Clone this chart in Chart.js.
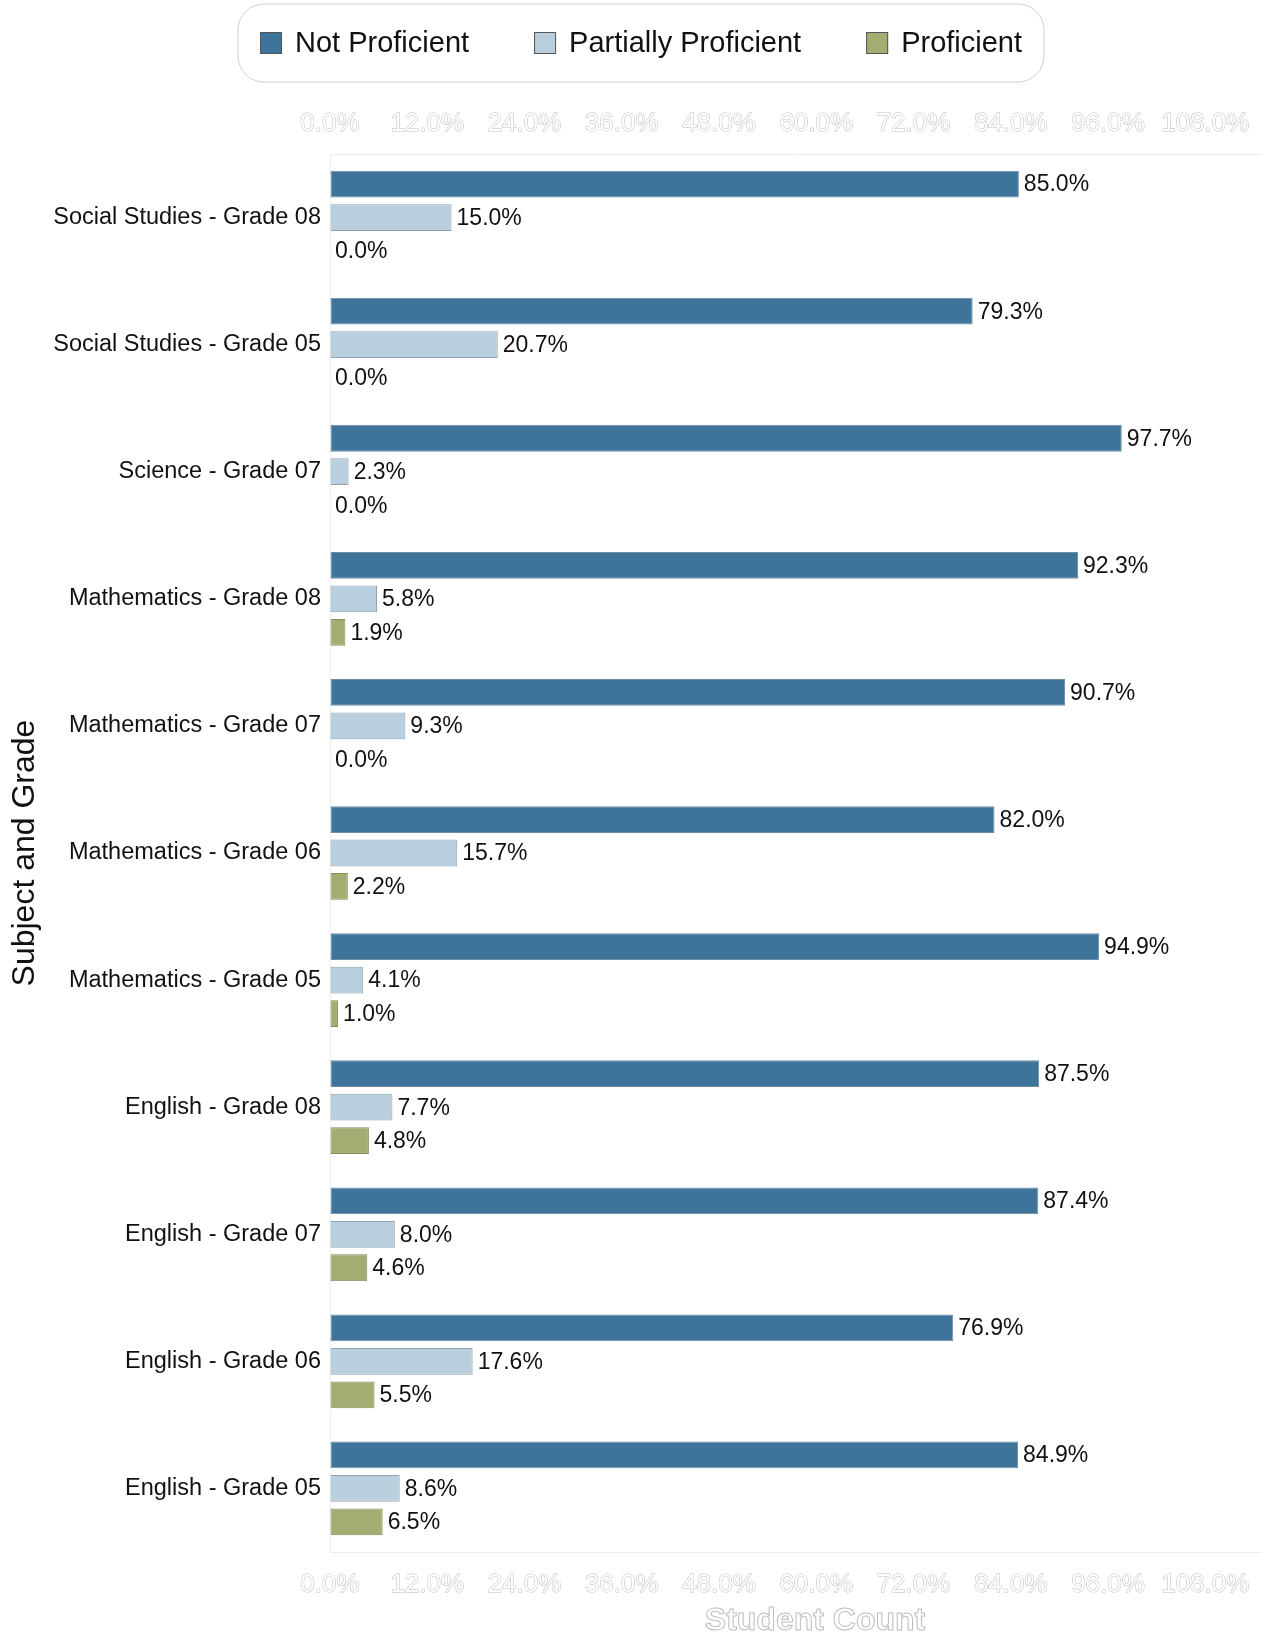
<!DOCTYPE html>
<html>
<head>
<meta charset="utf-8">
<script src="https://cdn.jsdelivr.net/npm/chart.js@4/dist/chart.umd.min.js"></script>
<style>
  html, body { margin: 0; padding: 0; background: #fff; }
  canvas { display: block; }
</style>
</head>
<body>
<canvas id="myChart" width="1262" height="1636"></canvas>
<script>
// data (percent of students)
var categories = [
    'Social Studies - Grade 08', 'Social Studies - Grade 05', 'Science - Grade 07',
    'Mathematics - Grade 08', 'Mathematics - Grade 07', 'Mathematics - Grade 06', 'Mathematics - Grade 05',
    'English - Grade 08', 'English - Grade 07', 'English - Grade 06', 'English - Grade 05'
];
var notProficient       = [85.0, 79.3, 97.7, 92.3, 90.7, 82.0, 94.9, 87.5, 87.4, 76.9, 84.9];
var partiallyProficient = [15.0, 20.7, 2.3, 5.8, 9.3, 15.7, 4.1, 7.7, 8.0, 17.6, 8.6];
var proficient          = [0.0, 0.0, 0.0, 1.9, 0.0, 2.2, 1.0, 4.8, 4.6, 5.5, 6.5];
var seriesNames = ['Not Proficient', 'Partially Proficient', 'Proficient'];
var tickValues = [0, 12, 24, 36, 48, 60, 72, 84, 96, 108];
var axisMax = 115;

var FONT = "'Liberation Sans', Arial, sans-serif";

function pct(v) { return v.toFixed(1) + '%'; }

function noZeroBorder(ctx) {
    return ctx.raw === 0 ? 0 : 1;
}

// value text at the end of each bar
var valueLabels = {
    id: 'valueLabels',
    afterDatasetsDraw: function(chart) {
        var ctx = chart.ctx;
        ctx.save();
        ctx.font = '23px ' + FONT;
        ctx.fillStyle = '#111';
        ctx.textAlign = 'left';
        ctx.textBaseline = 'middle';
        chart.data.datasets.forEach(function(ds, i) {
            chart.getDatasetMeta(i).data.forEach(function(bar, j) {
                ctx.fillText(pct(ds.data[j]), bar.x + 5, bar.y + 1);
            });
        });
        ctx.restore();
    }
};

// boxed legend and the outlined x title
var decorations = {
    id: 'decorations',
    afterDraw: function(chart) {
        var ctx = chart.ctx;
        var sets = chart.data.datasets;
        var gap = 65;
        ctx.save();
        ctx.font = '29px ' + FONT;
        var x = 260, y = 43, widths = [];
        sets.forEach(function(ds) { widths.push(ctx.measureText(ds.label).width); });
        var total = 0;
        widths.forEach(function(w, i) { total += 22 + 13 + w + (i < widths.length - 1 ? gap : 0); });

        // rounded frame
        var bx = x - 22, by = 4, bw = total + 44, bh = 78, r = 26;
        ctx.beginPath();
        ctx.moveTo(bx + r, by);
        ctx.arcTo(bx + bw, by, bx + bw, by + bh, r);
        ctx.arcTo(bx + bw, by + bh, bx, by + bh, r);
        ctx.arcTo(bx, by + bh, bx, by, r);
        ctx.arcTo(bx, by, bx + bw, by, r);
        ctx.closePath();
        ctx.strokeStyle = '#cfcfcf';
        ctx.lineWidth = 1;
        ctx.stroke();

        ctx.textBaseline = 'middle';
        ctx.textAlign = 'left';
        sets.forEach(function(ds, i) {
            ctx.fillStyle = ds.backgroundColor;
            ctx.fillRect(x, y - 11, 22, 22);
            ctx.strokeStyle = '#555';
            ctx.lineWidth = 1;
            ctx.strokeRect(x + 0.5, y - 10.5, 21, 21);
            ctx.fillStyle = '#111';
            ctx.fillText(ds.label, x + 35, y + 1);
            x += 35 + widths[i] + gap;
        });

        // x axis title, white text with a grey outline
        ctx.font = 'bold 32px ' + FONT;
        ctx.textAlign = 'center';
        ctx.fillStyle = '#ffffff';
        ctx.strokeStyle = '#bdbdbd';
        ctx.lineWidth = 1;
        ctx.fillText('Student Count', 815, 1621);
        ctx.strokeText('Student Count', 815, 1621);
        ctx.restore();
    }
};

function valueAxis(position, pad) {
    return {
        position: position,
        min: 0,
        max: axisMax,
        grid: { drawOnChartArea: false, drawTicks: false },
        border: { color: '#eeeeee' },
        afterBuildTicks: function(scale) {
            scale.ticks = tickValues.map(function(v) { return { value: v }; });
        },
        afterFit: function(scale) {
            scale.paddingRight = 0;
        },
        ticks: {
            autoSkip: false,
            maxRotation: 0,
            padding: pad,
            color: '#ffffff',
            textStrokeColor: '#bcbcbc',
            textStrokeWidth: 1,
            font: { family: FONT, size: 26, lineHeight: 1 },
            callback: function(value) { return pct(value); }
        }
    };
}

var ctx = document.getElementById('myChart').getContext('2d');
var myChart = new Chart(ctx, {
    type: 'bar',
    data: {
        labels: categories,
        datasets: [{
            label: seriesNames[0],
            data: notProficient,
            backgroundColor: '#3e7499',
            borderColor: '#6d8fa8',
            borderWidth: noZeroBorder
        },
        {
            label: seriesNames[1],
            data: partiallyProficient,
            backgroundColor: '#b9cfdd',
            borderColor: '#8fa2b3',
            borderWidth: noZeroBorder
        },
        {
            label: seriesNames[2],
            data: proficient,
            backgroundColor: '#a4ac72',
            borderColor: '#858d5b',
            borderWidth: noZeroBorder
        }]
    },
    options: {
        indexAxis: 'y',
        responsive: false,
        devicePixelRatio: 1,
        animation: false,
        datasets: {
            bar: {
                categoryPercentage: 0.79,
                barPercentage: 0.8,
                borderSkipped: false
            }
        },
        layout: { padding: { top: 94, bottom: 18, left: 0, right: 0 } },
        plugins: {
            legend: { display: false },
            tooltip: { enabled: false }
        },
        scales: {
            x: valueAxis('bottom', 20),
            x2: valueAxis('top', 17),
            y: {
                grid: { drawOnChartArea: false, drawTicks: false },
                border: { color: '#eeeeee' },
                ticks: {
                    padding: 9,
                    color: '#111',
                    font: { family: FONT, size: 23.5 }
                },
                title: {
                    display: true,
                    text: 'Subject and Grade',
                    color: '#111',
                    font: { family: FONT, size: 32, lineHeight: 1 },
                    padding: { top: 9, bottom: 0 }
                },
                afterFit: function(scale) { scale.width = 330; }
            }
        }
    },
    plugins: [valueLabels, decorations]
});
</script>
</body>
</html>
